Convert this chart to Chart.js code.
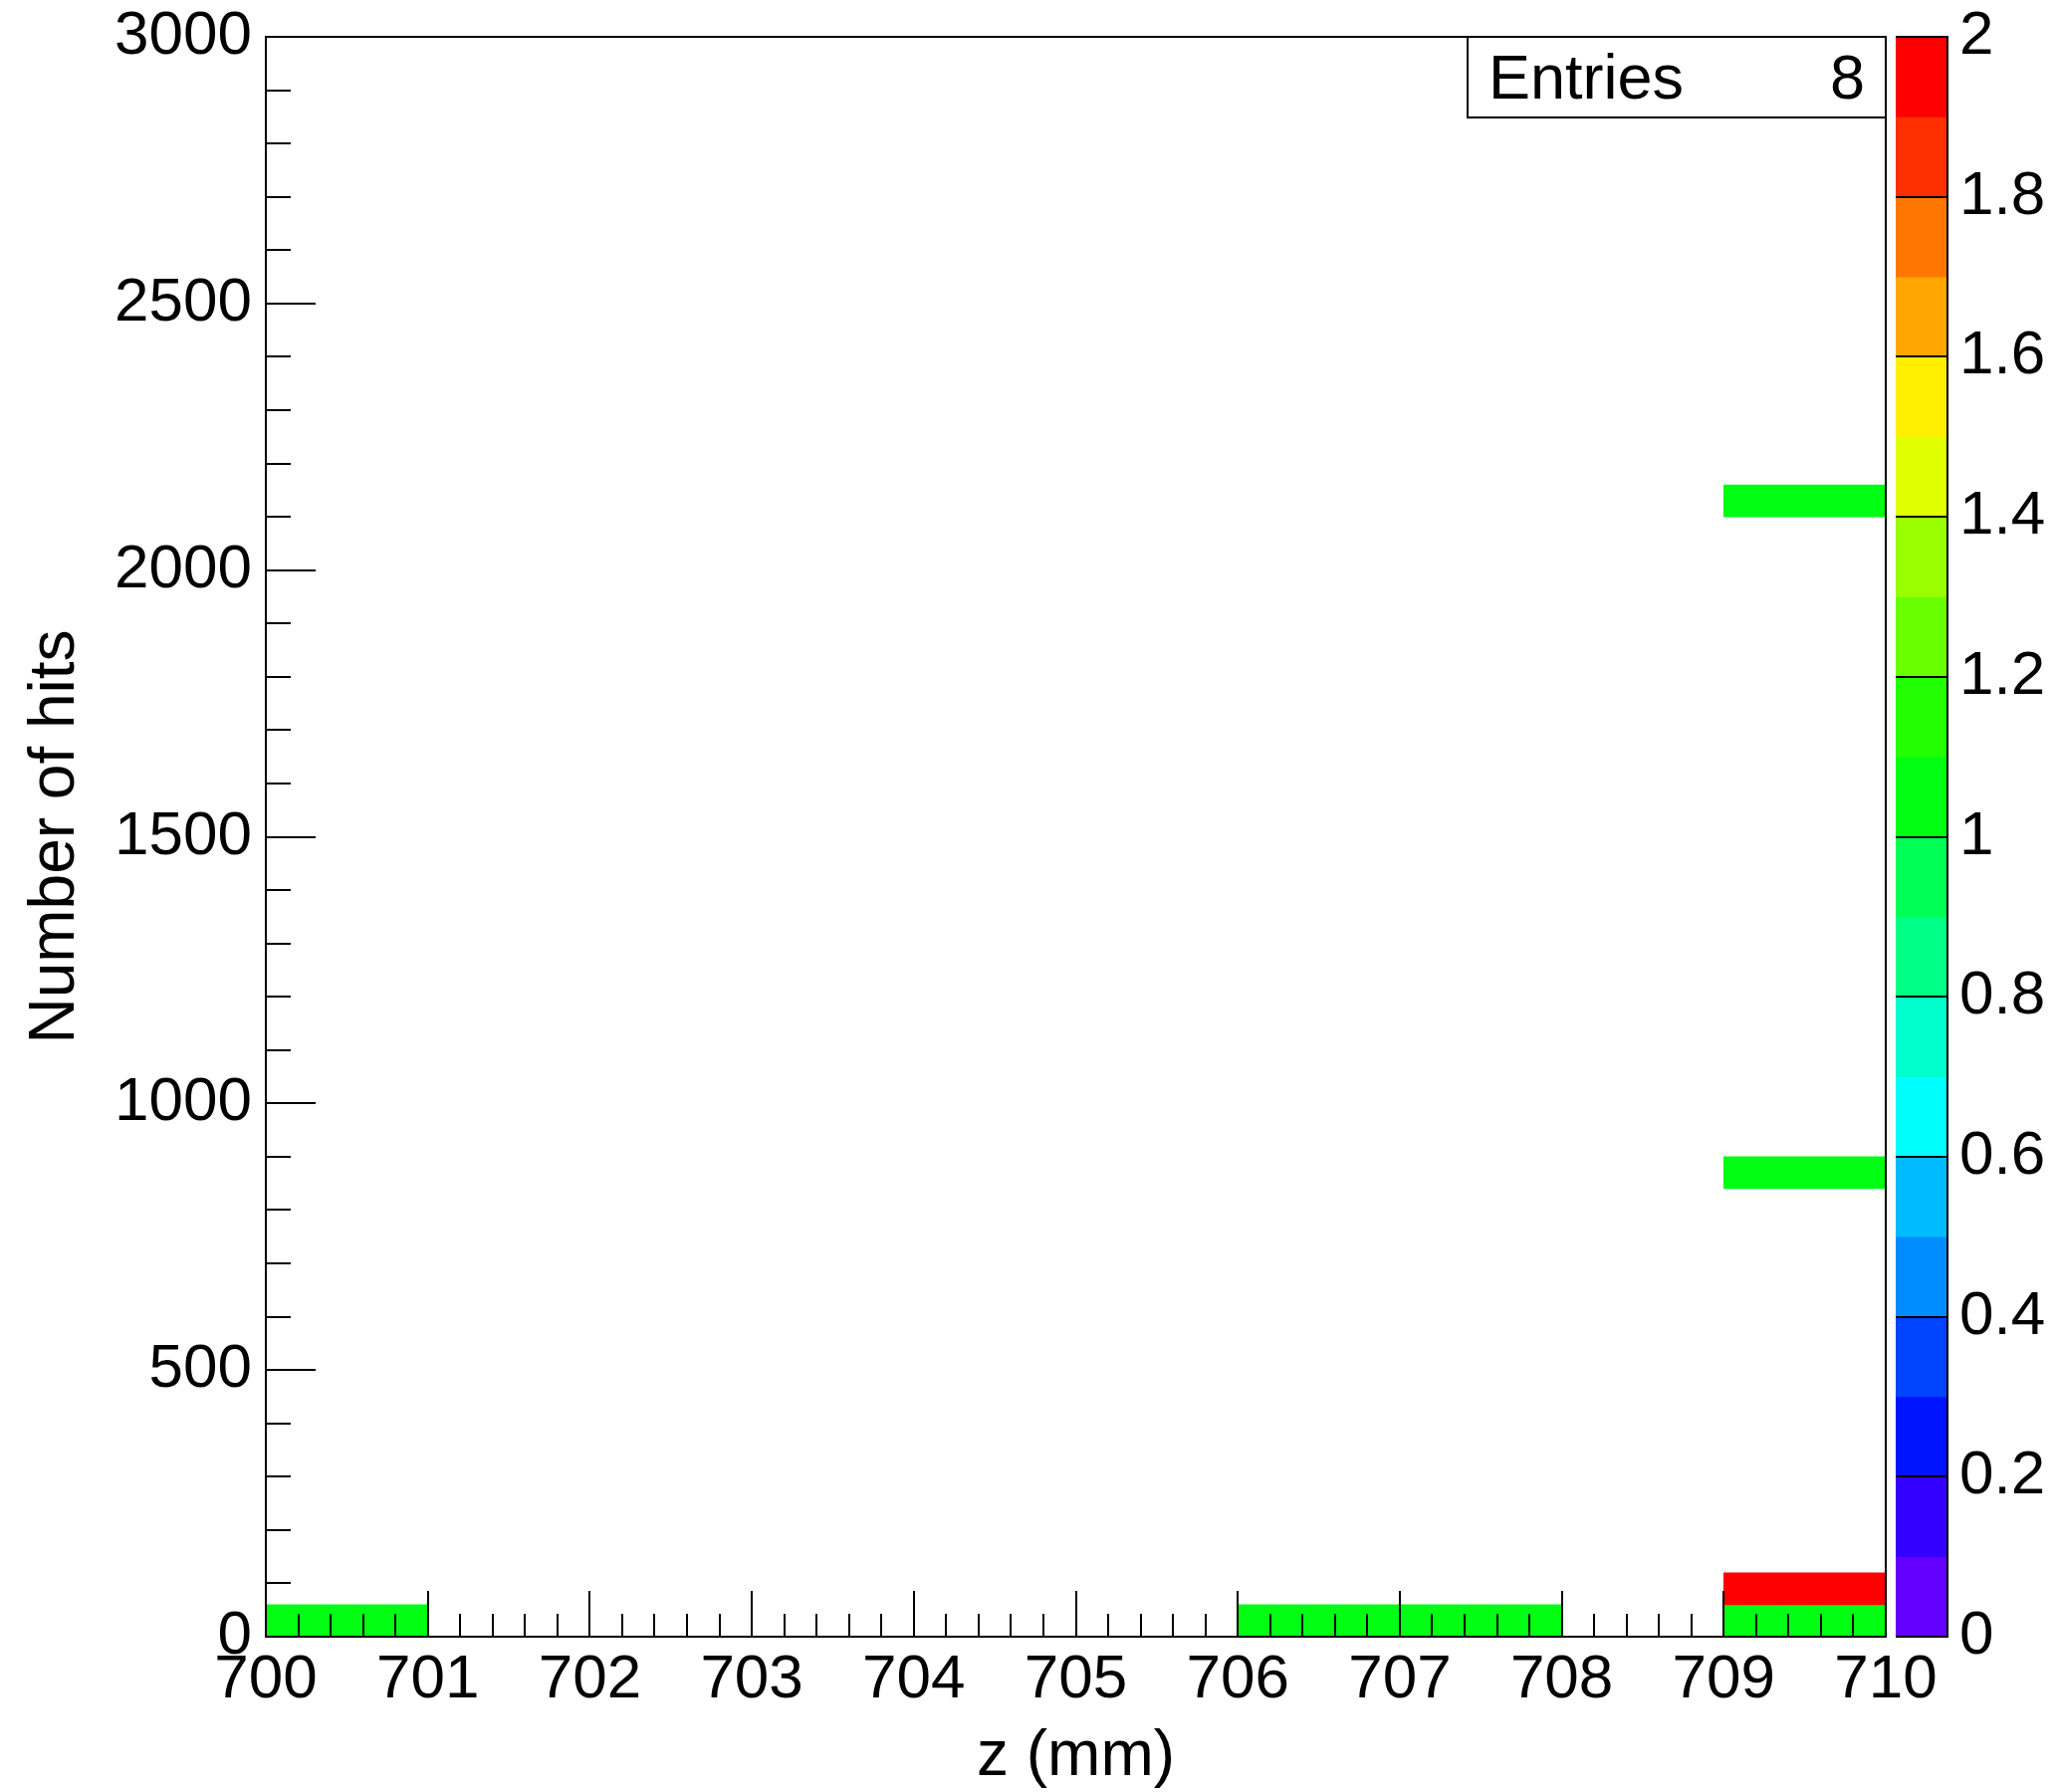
<!DOCTYPE html>
<html>
<head>
<meta charset="utf-8">
<script src="https://cdn.jsdelivr.net/npm/chart.js@4.4.1/dist/chart.umd.min.js"></script>
<style>
  html, body { margin: 0; padding: 0; background: #fff; }
  #wrap { position: relative; width: 2066px; height: 1800px; }
  #histo { position: absolute; left: 0; top: 0; }
  #palette { position: absolute; left: 1895px; top: 0; }
  #stats {
    position: absolute; left: 1473px; top: 36px; width: 422px; height: 83px;
    box-sizing: border-box; border: 2px solid #000; background: #fff;
    font-family: 'Liberation Sans', Arial, sans-serif; font-size: 63px;
  }
  #stats span { position: absolute; top: 0; line-height: 79px; }
</style>
</head>
<body>
<div id="wrap">
  <canvas id="histo" width="2066" height="1800"></canvas>
  <canvas id="palette" width="171" height="1800"></canvas>
  <div id="stats"><span style="left:20px">Entries</span><span id="entries" style="right:20px"></span></div>
</div>
<script>
// z bins (lower edge, 1 mm wide)
const zBins = ['700', '701', '702', '703', '704', '705', '706', '707', '708', '709'];

// filled cells of the 2D histogram: z bin, hit-count bin edges, content
const cellZ = ['700', '706', '707', '709', '709', '709', '709'];
const cellHitsLow = [0, 0, 0, 0, 60, 840, 2100];
const cellHitsHigh = [60, 60, 60, 60, 120, 900, 2160];
const cellEntries = [1, 1, 1, 1, 2, 1, 1];

// colour palette (20 contours between 0 and 2)
const contourLevels = [0, 0.1, 0.2, 0.3, 0.4, 0.5, 0.6, 0.7, 0.8, 0.9, 1.0,
                       1.1, 1.2, 1.3, 1.4, 1.5, 1.6, 1.7, 1.8, 1.9, 2.0];
const paletteColors = ['#6300ff', '#3300ff', '#0014ff', '#0044ff', '#008bff',
                       '#00bbff', '#00fffc', '#00ffcc', '#00ff85', '#00ff55',
                       '#00ff12', '#22ff00', '#69ff00', '#99ff00', '#e0ff00',
                       '#ffee00', '#ffa700', '#ff7700', '#ff3000', '#ff0000'];

Chart.defaults.font.family = "'Liberation Sans', Arial, sans-serif";
Chart.defaults.color = '#000';

function cellColour(n) {
    // pick the palette band the content falls in, overflow goes to the top colour
    let k = contourLevels.findIndex((lvl, i) => i > 0 && n < lvl) - 1;
    if (k < 0) k = paletteColors.length - 1;
    return paletteColors[k];
}

const frame = { display: true, color: '#000', width: 2, z: 1 };

// axis that only draws inward tick marks (no labels, no size in the layout)
function tickAxis(pos, min, max, step, len) {
    return {
        type: 'linear', position: pos, min: min, max: max, weight: 0, offset: false,
        ticks: { display: false, stepSize: step, autoSkip: false, maxTicksLimit: 200 },
        grid: { drawOnChartArea: false, offset: false, color: '#000', lineWidth: 2,
                tickLength: -len, z: 1 },
        border: { display: false },
        afterFit: s => { if (s.isHorizontal()) s.height = 0; else s.width = 0; }
    };
}

document.getElementById('entries').textContent = cellEntries.reduce((a, b) => a + b, 0);

new Chart(document.getElementById('histo'), {
    type: 'bar',
    data: {
        labels: zBins,
        datasets: [{
            data: cellZ.map((z, i) => ({ x: z, y: [cellHitsLow[i], cellHitsHigh[i]] })),
            backgroundColor: cellEntries.map(cellColour),
            borderWidth: 0,
            barPercentage: 1,
            categoryPercentage: 1,
            xAxisID: 'x',
            yAxisID: 'y'
        }]
    },
    options: {
        responsive: false,
        animation: false,
        events: [],
        layout: { padding: { left: 0, right: 172, top: 37, bottom: 0 } },
        plugins: { legend: { display: false }, tooltip: { enabled: false } },
        scales: {
            x: {
                type: 'category', position: 'top', offset: true,
                ticks: { display: false },
                grid: { display: false, drawTicks: false },
                border: frame
            },
            y: {
                type: 'linear', position: 'left', min: 0, max: 3000, weight: 10,
                ticks: { stepSize: 500, padding: 0, autoSkip: false,
                         font: { size: 62, lineHeight: 1 }, callback: v => String(v) },
                grid: { display: false, drawTicks: true, tickLength: 14 },
                border: frame,
                title: { display: true, text: 'Number of hits',
                         font: { size: 64, lineHeight: 1 }, padding: { top: 24, bottom: 0 } },
                afterFit: s => { s.width = 267; }
            },
            yMajor: tickAxis('left', 0, 3000, 500, 50),
            yMinor: tickAxis('left', 0, 3000, 100, 25),
            yRight: {
                type: 'linear', position: 'right', min: 0, max: 3000,
                ticks: { display: false },
                grid: { display: false, drawTicks: false },
                border: frame,
                afterFit: s => { s.width = 0; }
            },
            xLabels: {
                type: 'linear', position: 'bottom', min: 700, max: 710, weight: 10, offset: false,
                ticks: { stepSize: 1, padding: 0, autoSkip: false, maxRotation: 0,
                         font: { size: 62, lineHeight: 1 }, callback: v => String(v) },
                grid: { display: false, offset: false, drawTicks: true, tickLength: 13 },
                border: frame,
                title: { display: true, text: 'z (mm)',
                         font: { size: 64, lineHeight: 1 }, padding: { top: 0, bottom: 3 } },
                afterFit: s => { s.height = 156; }
            },
            xMajor: tickAxis('bottom', 700, 710, 1, 46),
            xMinor: tickAxis('bottom', 700, 710, 0.2, 23)
        }
    }
});

// colour bar
new Chart(document.getElementById('palette'), {
    type: 'bar',
    data: {
        labels: ['z'],
        datasets: [{
            data: paletteColors.map((c, k) => ({ x: 'z', y: [contourLevels[k], contourLevels[k + 1]] })),
            backgroundColor: paletteColors,
            borderWidth: 0,
            barPercentage: 1,
            categoryPercentage: 1
        }]
    },
    options: {
        responsive: false,
        animation: false,
        events: [],
        layout: { padding: { left: 9, right: 0, top: 37, bottom: 156 } },
        plugins: { legend: { display: false }, tooltip: { enabled: false } },
        scales: {
            x: { display: false },
            y: {
                position: 'right', min: 0, max: 2,
                ticks: { stepSize: 0.2, padding: 0, autoSkip: false,
                         font: { size: 62, lineHeight: 1 },
                         callback: v => String(Math.round(v * 10) / 10) },
                grid: { color: '#000', lineWidth: 2, drawTicks: true, tickLength: 12,
                        tickColor: 'rgba(0,0,0,0)', z: 1 },
                border: frame,
                afterFit: s => { s.width = 110; }
            }
        }
    }
});
</script>
</body>
</html>
